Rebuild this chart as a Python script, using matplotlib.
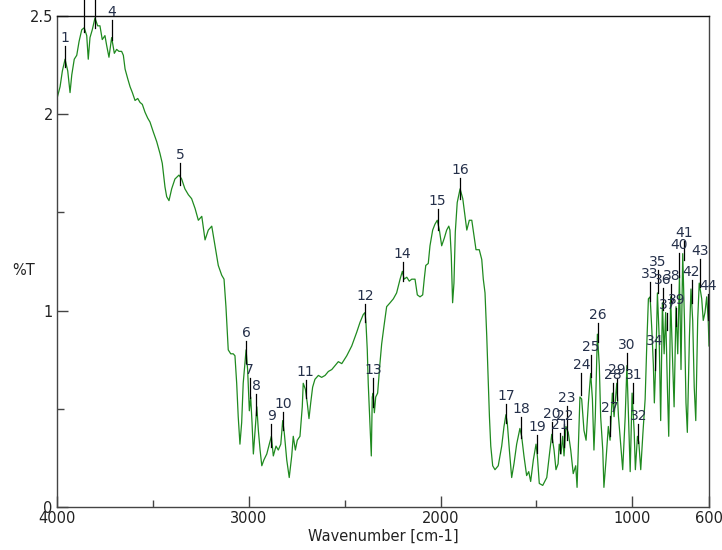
import matplotlib
matplotlib.use("Agg")
import matplotlib.pyplot as plt
from matplotlib.ticker import FixedLocator, NullFormatter

# ---- spectrum data (wavenumber [cm-1], %T) ----
wavenumber = [
    4000, 3984, 3972, 3958, 3944, 3932, 3923, 3910, 3897, 3885, 3871, 3858, 3845, 3837, 3828,
    3816, 3802, 3788, 3776, 3764, 3750, 3741, 3729, 3715, 3701, 3689, 3677, 3663, 3654, 3645,
    3631, 3619, 3607, 3593, 3579, 3567, 3555, 3541, 3527, 3515, 3498, 3480, 3463, 3451, 3437,
    3428, 3416, 3402, 3385, 3364, 3350, 3333, 3315, 3298, 3280, 3263, 3245, 3228, 3211, 3193,
    3176, 3159, 3141, 3129, 3119, 3107, 3094, 3081, 3072, 3063, 3055, 3046, 3037, 3029, 3014,
    3006, 2997, 2990, 2983, 2976, 2967, 2958, 2950, 2941, 2932, 2921, 2906, 2893, 2882, 2872,
    2858, 2846, 2833, 2823, 2815, 2802, 2789, 2776, 2768, 2757, 2747, 2733, 2721, 2716, 2705,
    2695, 2686, 2677, 2667, 2655, 2637, 2620, 2602, 2585, 2567, 2550, 2533, 2515, 2489, 2463,
    2437, 2420, 2403, 2394, 2389, 2382, 2377, 2371, 2368, 2361, 2356, 2351, 2345, 2338, 2328,
    2316, 2307, 2295, 2281, 2263, 2246, 2229, 2211, 2199, 2190, 2176, 2163, 2150, 2133, 2121,
    2107, 2093, 2085, 2077, 2064, 2055, 2041, 2029, 2017, 2006, 1994, 1980, 1968, 1957, 1951,
    1944, 1937, 1930, 1923, 1913, 1898, 1884, 1872, 1863, 1850, 1837, 1825, 1815, 1798, 1785,
    1777, 1768, 1759, 1751, 1745, 1738, 1728, 1716, 1699, 1681, 1669, 1659, 1652, 1641, 1629,
    1617, 1603, 1586, 1577, 1565, 1551, 1540, 1530, 1516, 1502, 1495, 1485, 1467, 1446, 1433,
    1420, 1408, 1398, 1387, 1381, 1372, 1363, 1356, 1346, 1334, 1321, 1308, 1295, 1288, 1281,
    1273, 1264, 1252, 1241, 1229, 1217, 1208, 1200, 1193, 1182, 1172, 1165, 1154, 1148, 1137,
    1125, 1116, 1104, 1095, 1081, 1072, 1060, 1050, 1037, 1028, 1020, 1011, 1001, 990, 984,
    973, 966, 956, 945, 933, 924, 916, 907, 898, 890, 885, 876, 869, 860, 852,
    843, 834, 826, 817, 810, 800, 791, 782, 772, 763, 754, 746, 737, 728, 720,
    713, 702, 694, 685, 677, 669, 659, 651, 638, 630, 621, 612, 604, 600,
]
transmittance = [
    2.08, 2.14, 2.22, 2.28, 2.22, 2.11, 2.20, 2.28, 2.30, 2.37, 2.43, 2.44, 2.40, 2.28, 2.39,
    2.43, 2.49, 2.45, 2.45, 2.38, 2.40, 2.35, 2.29, 2.39, 2.31, 2.33, 2.32, 2.32, 2.30, 2.23,
    2.18, 2.14, 2.11, 2.07, 2.08, 2.06, 2.05, 2.01, 1.98, 1.96, 1.91, 1.86, 1.80, 1.75, 1.63,
    1.58, 1.56, 1.62, 1.67, 1.69, 1.67, 1.62, 1.59, 1.57, 1.52, 1.46, 1.48, 1.36, 1.41, 1.43,
    1.33, 1.23, 1.18, 1.16, 1.02, 0.80, 0.78, 0.78, 0.77, 0.63, 0.46, 0.32, 0.43, 0.63, 0.80,
    0.70, 0.49, 0.56, 0.43, 0.27, 0.39, 0.51, 0.39, 0.29, 0.21, 0.24, 0.27, 0.32, 0.36, 0.26,
    0.31, 0.29, 0.32, 0.44, 0.38, 0.24, 0.15, 0.26, 0.36, 0.29, 0.34, 0.36, 0.51, 0.63, 0.60,
    0.53, 0.45, 0.53, 0.61, 0.65, 0.67, 0.66, 0.67, 0.69, 0.70, 0.72, 0.74, 0.73, 0.77, 0.82,
    0.89, 0.94, 0.98, 0.99, 0.94, 0.80, 0.63, 0.49, 0.41, 0.26, 0.56, 0.58, 0.48, 0.56, 0.58,
    0.73, 0.83, 0.92, 1.02, 1.04, 1.06, 1.09, 1.16, 1.20, 1.16, 1.17, 1.15, 1.16, 1.16, 1.08,
    1.07, 1.08, 1.16, 1.23, 1.24, 1.33, 1.41, 1.44, 1.46, 1.41, 1.33, 1.37, 1.41, 1.43, 1.41,
    1.28, 1.04, 1.14, 1.40, 1.55, 1.62, 1.57, 1.48, 1.41, 1.46, 1.46, 1.38, 1.31, 1.31, 1.26,
    1.16, 1.09, 0.87, 0.63, 0.46, 0.31, 0.21, 0.19, 0.21, 0.31, 0.41, 0.47, 0.43, 0.29, 0.15,
    0.22, 0.32, 0.40, 0.36, 0.26, 0.16, 0.18, 0.13, 0.24, 0.32, 0.26, 0.12, 0.11, 0.15, 0.26,
    0.37, 0.29, 0.19, 0.22, 0.32, 0.27, 0.36, 0.26, 0.41, 0.38, 0.29, 0.17, 0.21, 0.10, 0.31,
    0.56, 0.55, 0.39, 0.34, 0.53, 0.68, 0.55, 0.29, 0.46, 0.88, 0.72, 0.46, 0.29, 0.10, 0.24,
    0.41, 0.34, 0.58, 0.46, 0.63, 0.46, 0.31, 0.19, 0.46, 0.72, 0.46, 0.18, 0.58, 0.38, 0.19,
    0.36, 0.33, 0.19, 0.37, 0.55, 0.84, 1.06, 1.07, 0.90, 0.72, 0.53, 0.78, 1.09, 0.87, 0.44,
    1.04, 0.78, 0.99, 0.61, 0.36, 1.07, 0.78, 0.51, 1.02, 0.78, 1.18, 0.70, 1.29, 0.95, 0.53,
    0.38, 0.87, 1.11, 0.95, 0.61, 0.44, 0.95, 1.14, 1.06, 0.95, 0.99, 1.07, 0.95, 0.82,
]

# ---- peak picks ----
peak_labels = [str(i) for i in range(1, 45)]
peak_wn = [3958, 3858, 3802, 3715, 3356, 3014, 2996, 2961, 2882, 2822, 2704, 2393, 2352, 2198,
           2015, 1897, 1657, 1580, 1497, 1418, 1378, 1354, 1340, 1265, 1215, 1180, 1118, 1100,
           1079, 1027, 995, 969, 909, 884, 867, 839, 818, 796, 770, 756, 732, 691, 648, 606]
peak_T = [2.24, 2.42, 2.44, 2.38, 1.64, 0.733, 0.556, 0.47, 0.306, 0.393, 0.556, 0.94, 0.51, 1.15,
          1.41, 1.57, 0.43, 0.35, 0.275, 0.333, 0.275, 0.306, 0.34, 0.57, 0.66, 0.84, 0.36, 0.53,
          0.545, 0.70, 0.53, 0.325, 1.05, 0.70, 1.09, 1.005, 0.90, 1.04, 0.92, 1.17, 1.26, 1.04,
          1.12, 0.95]
label_T = [2.35, 2.70, 2.75, 2.485, 1.755, 0.85, 0.66, 0.58, 0.43, 0.49, 0.65, 1.04, 0.66, 1.255,
           1.52, 1.68, 0.53, 0.465, 0.37, 0.44, 0.38, 0.43, 0.52, 0.685, 0.78, 0.94, 0.47, 0.635,
           0.66, 0.79, 0.635, 0.43, 1.15, 0.81, 1.21, 1.12, 0.995, 1.14, 1.02, 1.30, 1.36, 1.16,
           1.27, 1.09]

x_ticks = [4000, 3000, 2000, 1000, 600]
x_minor = [3500, 2500, 1500]
y_ticks = [0, 1, 2, 2.5]
y_tick_labels = ["0", "1", "2", "2.5"]
y_minor = [0.5, 1.5]

fig = plt.figure(figsize=(7.22, 5.5), dpi=100)
ax = fig.add_axes([57 / 722, 1 - 507 / 550, (709 - 57) / 722, (507 - 16) / 550])

ax.plot(wavenumber, transmittance, color="#1f8a1f", lw=0.9)

for lab, w, t, lt in zip(peak_labels, peak_wn, peak_T, label_T):
    top = min(lt - 0.005, 2.62)
    ax.plot([w, w], [t, top], color="black", lw=0.9, clip_on=False)
    # labels whose position lies above the figure are not visible in the reference
    if lt < 2.55:
        ax.text(w, lt, lab, ha="center", va="bottom", fontsize=10, color="#25304a",
                clip_on=False)

ax.set_xlim(4000, 600)
ax.set_ylim(0, 2.5)

ax.set_xticks(x_ticks)
ax.set_xticklabels([str(v) for v in x_ticks], fontsize=10.5, color="#222222")
ax.xaxis.set_minor_locator(FixedLocator(x_minor))
ax.set_yticks(y_ticks)
ax.set_yticklabels(y_tick_labels, fontsize=10.5, color="#222222")
ax.yaxis.set_minor_locator(FixedLocator(y_minor))
ax.yaxis.set_minor_formatter(NullFormatter())
ax.xaxis.set_minor_formatter(NullFormatter())

ax.tick_params(axis="both", which="major", direction="in", length=8, width=1, color="#444444", pad=3)
ax.tick_params(axis="both", which="minor", direction="in", length=5, width=1, color="#444444")
ax.tick_params(top=False, right=False, which="both")

for s in ax.spines.values():
    s.set_color("#444444")
    s.set_linewidth(1.0)
ax.spines["top"].set_color("#111111")

ax.set_xlabel("Wavenumber [cm-1]", fontsize=10.5, color="#222222", labelpad=2)
fig.text(12 / 722, 1 - 270 / 550, "%T", fontsize=10.5, color="#222222", ha="left", va="center")

fig.savefig("out.png", dpi=100)
